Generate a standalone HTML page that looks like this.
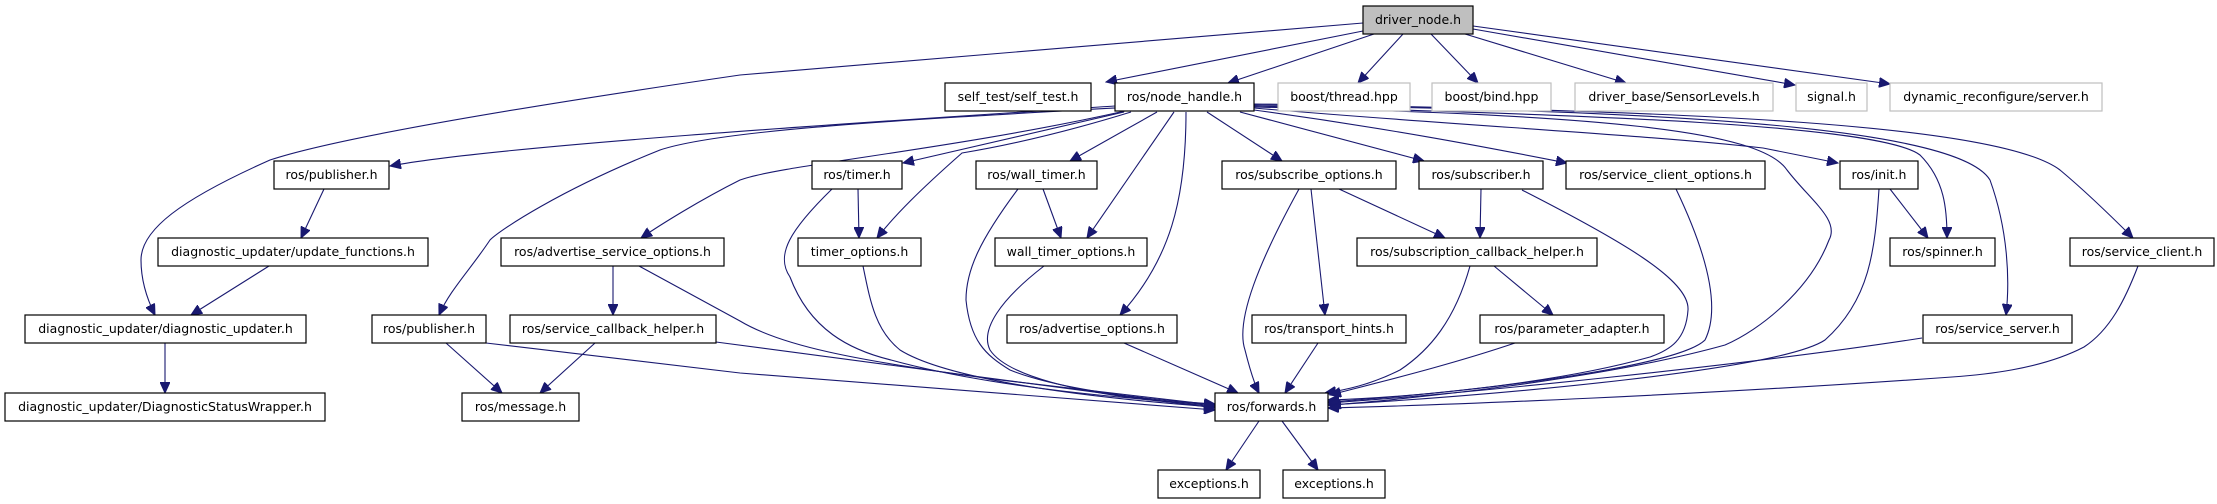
<!DOCTYPE html>
<html><head><meta charset="utf-8"><style>
html,body{margin:0;padding:0;background:#fff;}
svg{display:block;}
text{font-family:"DejaVu Sans","Liberation Sans",sans-serif;font-size:12.5px;fill:#000;text-anchor:middle;}
.b{fill:#fff;stroke:#000;stroke-width:1.2;}
.g{fill:#fff;stroke:#bfbfbf;stroke-width:1.2;}
.s{fill:none;stroke:#999;stroke-width:1;}
.e{fill:none;stroke:#191970;stroke-width:1.1;marker-end:url(#a);}
</style></head><body>
<svg width="2217" height="504" viewBox="0 0 2217 504" xmlns="http://www.w3.org/2000/svg">
<defs><marker id="a" markerUnits="userSpaceOnUse" markerWidth="12" markerHeight="10" refX="11" refY="5" orient="auto"><path d="M0,0 L11,5 L0,10 z" fill="#191970" stroke="#191970"/></marker></defs>

<!-- edges from driver_node -->
<path class="e" d="M1363,23 L740,75 C500,110 330,140 270,160 C180,200 141,230 141,260 C141,285 150,305 155,315"/>
<path class="e" d="M1363,31 L1106,82"/>
<path class="e" d="M1374,34 L1228,83"/>
<path class="e" d="M1403,34 L1358,83"/>
<path class="e" d="M1431,34 L1478,83"/>
<path class="e" d="M1465,34 L1626,83"/>
<path class="e" d="M1473,29 L1795,85"/>
<path class="e" d="M1473,26 L1890,84"/>

<!-- edges from node_handle -->
<path class="e" d="M1115,106 C900,120 500,145 390,166"/>
<path class="e" d="M1115,108 C900,120 720,130 660,150 C560,190 500,230 490,240 C470,270 450,290 439,315"/>
<path class="e" d="M1125,111 C950,150 780,165 740,180 C700,200 660,225 641,238"/>
<path class="e" d="M1124,112 L903,163"/>
<path class="e" d="M1131,112 C1040,140 980,150 962,153 C920,190 895,215 877,238"/>
<path class="e" d="M1157,112 L1070,161"/>
<path class="e" d="M1174,112 L1087,238"/>
<path class="e" d="M1186,112 C1186,200 1170,260 1120,315"/>
<path class="e" d="M1207,112 L1282,161"/>
<path class="e" d="M1240,112 L1424,161"/>
<path class="e" d="M1254,110 C1400,130 1500,150 1567,163"/>
<path class="e" d="M1254,108 C1450,125 1650,135 1763,148 L1838,163"/>
<path class="e" d="M1254,106 C1600,115 1880,125 1920,155 C1945,180 1947,210 1947,238"/>
<path class="e" d="M1254,105 C1700,110 1960,130 1990,180 C2008,230 2010,280 2006,315"/>
<path class="e" d="M1254,104 C1700,110 2000,125 2060,170 C2090,195 2120,225 2133,238"/>
<path class="e" d="M1254,107 C1600,115 1760,130 1787,170 C1810,200 1840,220 1829,240 C1810,290 1760,330 1725,345 C1600,380 1400,400 1330,405"/>

<!-- lower edges -->
<path class="e" d="M324,189 L301,238"/>
<path class="e" d="M269,266 L191,315"/>
<path class="e" d="M165,343 L165,393"/>
<path class="e" d="M613,266 L613,315"/>
<path class="e" d="M639,266 L740,321 C780,345 850,360 1000,380 L1215,405"/>
<path class="e" d="M595,343 L540,393"/>
<path class="e" d="M716,342 L1215,408"/>
<path class="e" d="M446,343 L502,393"/>
<path class="e" d="M486,343 L740,373 L1215,410"/>
<path class="e" d="M858,189 L859,238"/>
<path class="e" d="M832,189 C790,230 775,255 790,277 C810,330 850,350 891,360 C1000,390 1150,400 1215,405"/>
<path class="e" d="M863,266 C870,300 875,330 900,350 C940,375 1050,395 1215,407"/>
<path class="e" d="M1043,189 L1061,238"/>
<path class="e" d="M1018,189 C980,240 966,270 966,300 C970,340 985,355 1010,370 C1060,390 1150,400 1215,404"/>
<path class="e" d="M1044,266 C1000,300 980,330 990,350 C1010,380 1100,398 1215,406"/>
<path class="e" d="M1124,343 L1238,393"/>
<path class="e" d="M1299,189 C1260,260 1235,320 1245,350 C1250,370 1255,385 1259,393"/>
<path class="e" d="M1311,189 L1325,315"/>
<path class="e" d="M1339,189 L1445,238"/>
<path class="e" d="M1318,343 L1285,393"/>
<path class="e" d="M1481,189 L1480,238"/>
<path class="e" d="M1522,190 C1620,240 1690,280 1688,310 C1686,340 1670,350 1650,357 C1550,385 1400,398 1328,400"/>
<path class="e" d="M1494,266 L1553,315"/>
<path class="e" d="M1470,266 C1455,320 1430,350 1400,370 C1370,385 1345,390 1325,393"/>
<path class="e" d="M1515,343 C1450,365 1380,382 1330,395"/>
<path class="e" d="M1676,189 C1710,260 1720,310 1705,340 C1680,365 1500,390 1328,402"/>
<path class="e" d="M1890,189 L1928,238"/>
<path class="e" d="M1879,189 C1875,250 1870,300 1825,340 C1780,370 1500,395 1328,405"/>
<path class="e" d="M1922,338 C1750,365 1450,395 1328,403"/>
<path class="e" d="M2138,266 C2125,300 2110,330 2084,347 C2040,370 1980,375 1952,377 C1700,395 1450,405 1328,408"/>
<path class="e" d="M1259,421 L1226,470"/>
<path class="e" d="M1282,421 L1318,470"/>

<!-- nodes -->
<rect x="1363" y="6" width="110" height="28" fill="#bfbfbf" stroke="#000" stroke-width="1.2"/><text x="1418" y="24">driver_node.h</text>

<rect class="b" x="945" y="83" width="146" height="28"/><text x="1018" y="101">self_test/self_test.h</text>
<rect class="b" x="1115" y="83" width="139" height="28"/><text x="1184.5" y="101">ros/node_handle.h</text>
<rect class="g" x="1278" y="83" width="132" height="28"/><text x="1344" y="101" fill="#000">boost/thread.hpp</text>
<rect class="g" x="1432" y="83" width="119" height="28"/><text x="1491.5" y="101">boost/bind.hpp</text>
<rect class="g" x="1575" y="83" width="198" height="28"/><text x="1674" y="101">driver_base/SensorLevels.h</text>
<rect class="g" x="1796" y="83" width="71" height="28"/><text x="1831.5" y="101">signal.h</text>
<rect class="g" x="1890" y="83" width="212" height="28"/><text x="1996" y="101">dynamic_reconfigure/server.h</text>

<rect class="b" x="274" y="161" width="115" height="28"/><text x="331.5" y="179">ros/publisher.h</text>
<rect class="b" x="812" y="161" width="90" height="28"/><text x="857" y="179">ros/timer.h</text>
<rect class="b" x="976" y="161" width="121" height="28"/><text x="1036.5" y="179">ros/wall_timer.h</text>
<rect class="b" x="1222" y="161" width="174" height="28"/><text x="1309" y="179">ros/subscribe_options.h</text>
<rect class="b" x="1419" y="161" width="124" height="28"/><text x="1481" y="179">ros/subscriber.h</text>
<rect class="b" x="1566" y="161" width="199" height="28"/><text x="1665.5" y="179">ros/service_client_options.h</text>
<rect class="b" x="1840" y="161" width="78" height="28"/><text x="1879" y="179">ros/init.h</text>

<rect class="b" x="158" y="238" width="270" height="28"/><text x="293" y="256">diagnostic_updater/update_functions.h</text>
<rect class="b" x="501" y="238" width="223" height="28"/><text x="612.5" y="256">ros/advertise_service_options.h</text>
<rect class="b" x="798" y="238" width="123" height="28"/><text x="859.5" y="256">timer_options.h</text>
<rect class="b" x="995" y="238" width="152" height="28"/><text x="1071" y="256">wall_timer_options.h</text>
<rect class="b" x="1357" y="238" width="240" height="28"/><text x="1477" y="256">ros/subscription_callback_helper.h</text>
<rect class="b" x="1890" y="238" width="105" height="28"/><text x="1942.5" y="256">ros/spinner.h</text>
<rect class="b" x="2070" y="238" width="144" height="28"/><text x="2142" y="256">ros/service_client.h</text>

<rect class="b" x="25" y="315" width="281" height="28"/><text x="165.5" y="333">diagnostic_updater/diagnostic_updater.h</text>
<rect class="b" x="372" y="315" width="114" height="28"/><text x="429" y="333">ros/publisher.h</text>
<rect class="b" x="510" y="315" width="206" height="28"/><text x="613" y="333">ros/service_callback_helper.h</text>
<rect class="b" x="1007" y="315" width="170" height="28"/><text x="1092" y="333">ros/advertise_options.h</text>
<rect class="b" x="1252" y="315" width="154" height="28"/><text x="1329" y="333">ros/transport_hints.h</text>
<rect class="b" x="1480" y="315" width="184" height="28"/><text x="1572" y="333">ros/parameter_adapter.h</text>
<rect class="b" x="1923" y="315" width="149" height="28"/><text x="1997.5" y="333">ros/service_server.h</text>

<rect class="b" x="5" y="393" width="320" height="28"/><text x="165" y="411">diagnostic_updater/DiagnosticStatusWrapper.h</text>
<rect class="b" x="462" y="393" width="117" height="28"/><text x="520.5" y="411">ros/message.h</text>
<rect class="b" x="1215" y="393" width="113" height="28"/><text x="1271.5" y="411">ros/forwards.h</text>

<rect class="b" x="1158" y="470" width="102" height="28"/><text x="1209" y="488">exceptions.h</text>
<rect class="b" x="1283" y="470" width="102" height="28"/><text x="1334" y="488">exceptions.h</text>
</svg>
</body></html>
